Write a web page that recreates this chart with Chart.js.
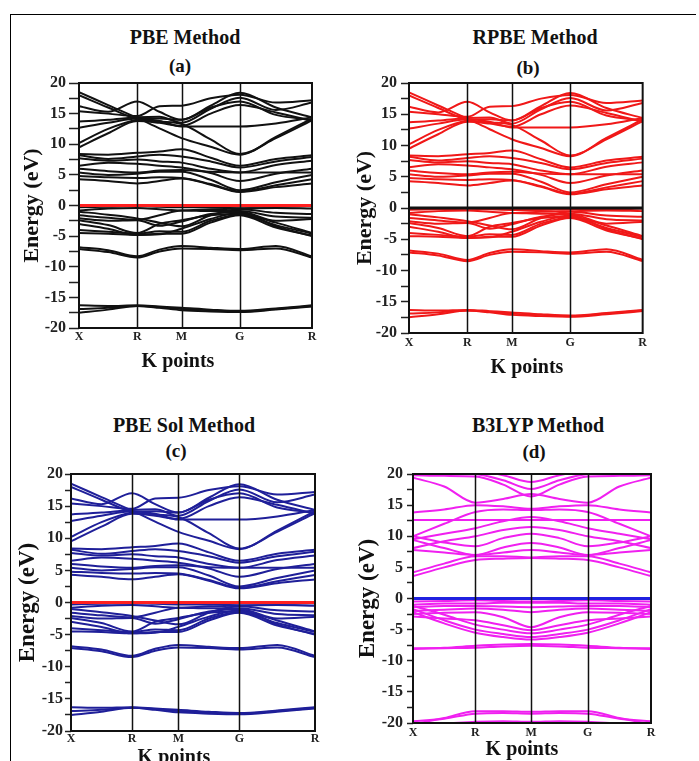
<!DOCTYPE html>
<html>
<head>
<meta charset="utf-8">
<title>Band structures</title>
<script src="https://cdn.jsdelivr.net/npm/chart.js@4.4.1/dist/chart.umd.min.js"></script>
<style>
	html, body { margin: 0; padding: 0; }
	body { width: 699px; height: 761px; overflow: hidden; background: #fff; position: relative; font-family: 'Liberation Serif', 'Times New Roman', serif; }
	.frame-top { position: absolute; left: 10px; top: 14px; width: 686px; height: 1px; background: #000; }
	.frame-left { position: absolute; left: 10px; top: 14px; width: 1px; height: 760px; background: #000; }
	.panel-title { position: absolute; font-weight: bold; white-space: nowrap; transform: translate(-50%, -50%); line-height: 1; color: #111; }
	canvas { position: absolute; }
</style>
</head>
<body>
<div class="frame-top"></div>
<div class="frame-left"></div>

<div class="panel-title" style="left:185px; top:37px; font-size:20px;">PBE Method</div>
<div class="panel-title" style="left:180px; top:65px; font-size:19px;">(a)</div>
<div class="panel-title" style="left:535px; top:37px; font-size:20px;">RPBE Method</div>
<div class="panel-title" style="left:528px; top:67px; font-size:19px;">(b)</div>
<div class="panel-title" style="left:184px; top:425px; font-size:20px;">PBE Sol Method</div>
<div class="panel-title" style="left:176px; top:450px; font-size:19px;">(c)</div>
<div class="panel-title" style="left:538px; top:425px; font-size:20px;">B3LYP Method</div>
<div class="panel-title" style="left:534px; top:451px; font-size:19px;">(d)</div>

<canvas id="chartPBE" style="left:10px; top:68px;" width="310" height="320"></canvas>
<canvas id="chartRPBE" style="left:340px; top:68px;" width="310" height="320"></canvas>
<canvas id="chartPBEsol" style="left:0px; top:459px;" width="325" height="320"></canvas>
<canvas id="chartB3LYP" style="left:340px; top:459px;" width="320" height="320"></canvas>

<script>
// k-path: X - R - M - G - R
const kLabels = ['X', 'R', 'M', 'G', 'R'];
const kTicksGGA = [0, 0.25, 0.44, 0.69, 1];
const kSamplesGGA = [0, 0.125, 0.25, 0.345, 0.44, 0.565, 0.69, 0.845, 1];
const kTicksB3LYP = [0, 0.262, 0.496, 0.734, 1];
const kSamplesB3LYP = [0, 0.131, 0.262, 0.379, 0.496, 0.615, 0.734, 0.867, 1];

// energy axis (eV)
const energyTicks = [-20, -17.5, -15, -12.5, -10, -7.5, -5, -2.5, 0, 2.5, 5, 7.5, 10, 12.5, 15, 17.5, 20];
const energyLabels = [-20, -15, -10, -5, 0, 5, 10, 15, 20];

// Fermi level at 0 eV (drawn from X to R)
const fermiK = [0, 1];
const fermiLevel = [0, 0];

// PBE bands, energies at kSamplesGGA (the RPBE and PBEsol panels read the same)
const pbeUpper = [
	[18.5, 16.4, 14.3, 12.6, 11.0, 9.6, 8.3, 11.2, 14.2],
	[18.0, 16.0, 14.1, 13.7, 13.3, 10.8, 8.4, 11.0, 13.9],
	[16.2, 15.3, 17.0, 15.3, 14.0, 16.3, 18.4, 16.0, 14.4],
	[15.4, 15.0, 14.6, 16.2, 16.3, 17.5, 18.1, 16.8, 17.2],
	[13.7, 14.0, 14.4, 14.5, 13.5, 15.8, 17.6, 15.6, 16.8],
	[12.7, 13.5, 14.2, 13.8, 12.9, 12.9, 12.9, 13.4, 14.4],
	[10.2, 12.5, 14.0, 14.2, 14.0, 16.0, 17.0, 14.8, 14.0],
	[9.5, 11.8, 13.8, 13.5, 13.0, 15.0, 16.4, 15.2, 13.8]
];
const pbeMiddle = [
	[8.4, 8.3, 8.6, 8.8, 9.2, 7.8, 6.5, 7.6, 8.2],
	[8.2, 7.6, 8.0, 8.3, 8.0, 7.2, 6.2, 7.2, 7.9],
	[7.7, 7.3, 7.5, 7.2, 7.0, 6.0, 5.4, 6.6, 7.3],
	[6.5, 7.0, 6.8, 6.5, 6.2, 5.3, 4.0, 5.2, 6.0],
	[6.0, 5.6, 5.4, 5.7, 5.8, 5.5, 5.4, 5.4, 5.4],
	[5.4, 5.0, 5.2, 5.5, 5.5, 4.2, 2.5, 3.8, 5.0],
	[4.8, 4.6, 4.5, 4.6, 4.5, 3.5, 2.3, 3.3, 4.3],
	[4.3, 4.0, 3.6, 4.0, 4.4, 3.4, 2.2, 3.0, 3.6]
];
const pbeValence = [
	[-0.3, -0.2, -0.1, -0.2, -0.3, -0.3, -0.2, -0.2, -0.1],
	[-0.8, -0.5, -0.4, -0.6, -0.8, -0.6, -0.5, -0.4, -0.5],
	[-1.0, -1.5, -2.1, -2.8, -3.4, -1.6, -0.6, -1.2, -1.4],
	[-1.6, -2.0, -2.3, -1.6, -0.8, -0.9, -0.9, -1.8, -2.0],
	[-2.1, -2.5, -2.4, -3.3, -2.6, -1.4, -1.0, -2.5, -2.2],
	[-2.4, -3.2, -4.5, -3.0, -2.4, -1.6, -1.4, -2.8, -4.5],
	[-4.0, -4.3, -4.6, -4.2, -4.3, -2.5, -1.5, -3.2, -4.6],
	[-4.5, -4.6, -4.8, -4.6, -4.6, -2.8, -1.6, -3.6, -4.9],
	[-3.0, -3.8, -4.8, -4.7, -3.8, -2.2, -1.2, -3.4, -5.0],
	[-6.8, -7.3, -8.3, -7.2, -6.6, -6.9, -7.1, -6.6, -8.3],
	[-7.1, -7.6, -8.5, -7.5, -7.0, -7.1, -7.3, -7.0, -8.5]
];
const pbeDeep = [
	[-16.3, -16.4, -16.3, -16.5, -16.7, -17.0, -17.2, -16.8, -16.3],
	[-16.9, -16.7, -16.4, -16.6, -16.9, -17.1, -17.3, -16.9, -16.4],
	[-17.5, -17.0, -16.4, -16.7, -17.1, -17.3, -17.4, -17.0, -16.5]
];

// B3LYP bands, energies at kSamplesB3LYP
const b3lypUpper = [
	[19.4, 18.0, 15.4, 16.0, 16.8, 16.0, 15.4, 18.0, 19.4],
	[19.8, 19.7, 19.6, 18.3, 16.4, 18.3, 19.6, 19.7, 19.8],
	[20.4, 20.2, 20.0, 19.0, 17.6, 19.0, 20.0, 20.2, 20.4],
	[20.6, 20.5, 20.5, 19.8, 18.7, 19.8, 20.5, 20.5, 20.6],
	[13.8, 14.3, 15.0, 14.8, 14.4, 14.8, 15.0, 14.3, 13.8],
	[12.6, 12.6, 12.6, 12.6, 12.6, 12.6, 12.6, 12.6, 12.6]
];
const b3lypMiddle = [
	[10.0, 12.0, 13.9, 14.3, 14.2, 14.3, 13.9, 12.0, 10.0],
	[9.5, 10.4, 11.3, 12.4, 13.1, 12.4, 11.3, 10.4, 9.5],
	[8.1, 9.2, 10.0, 11.0, 11.5, 11.0, 10.0, 9.2, 8.1],
	[10.0, 9.0, 8.4, 9.7, 10.4, 9.7, 8.4, 9.0, 10.0],
	[9.4, 8.1, 7.0, 8.2, 8.9, 8.2, 7.0, 8.1, 9.4],
	[7.8, 7.4, 7.0, 7.4, 7.8, 7.4, 7.0, 7.4, 7.8],
	[4.2, 5.6, 6.8, 6.8, 6.6, 6.8, 6.8, 5.6, 4.2],
	[3.6, 5.0, 6.2, 6.4, 6.5, 6.4, 6.2, 5.0, 3.6]
];
const b3lypValence = [
	[-0.5, -0.4, -0.3, -0.4, -0.5, -0.4, -0.3, -0.4, -0.5],
	[-1.0, -0.8, -0.8, -0.7, -0.7, -0.7, -0.8, -0.8, -1.0],
	[-1.4, -1.2, -1.2, -1.3, -1.4, -1.3, -1.2, -1.2, -1.4],
	[-2.0, -1.8, -1.6, -1.8, -2.2, -1.8, -1.6, -1.8, -2.0],
	[-2.5, -2.3, -2.2, -3.0, -4.6, -3.0, -2.2, -2.3, -2.5],
	[-2.9, -3.2, -3.5, -4.3, -5.1, -4.3, -3.5, -3.2, -2.9],
	[-1.2, -2.6, -4.2, -5.0, -5.6, -5.0, -4.2, -2.6, -1.2],
	[-1.7, -3.5, -5.0, -5.7, -6.2, -5.7, -5.0, -3.5, -1.7],
	[-2.2, -4.0, -5.5, -6.2, -6.6, -6.2, -5.5, -4.0, -2.2],
	[-8.0, -7.9, -7.6, -7.4, -7.3, -7.4, -7.6, -7.9, -8.0],
	[-8.1, -8.0, -7.9, -7.7, -7.6, -7.7, -7.9, -8.0, -8.1]
];
const b3lypDeep = [
	[-20.2, -19.2, -18.1, -18.1, -18.2, -18.1, -18.1, -19.2, -20.2],
	[-19.7, -19.3, -18.5, -18.4, -18.5, -18.4, -18.5, -19.3, -19.7],
	[-20.3, -20.1, -19.8, -19.7, -19.8, -19.7, -19.8, -20.1, -20.3]
];

const serif = "'Liberation Serif', 'Times New Roman', serif";

// chart frame, vertical lines at the high-symmetry points and the "K points" title
const frameBox = {
	id: 'frameBox',
	afterDatasetsDraw(chart, args, opts) {
		const { ctx, chartArea: a, scales } = chart;
		ctx.save();
		ctx.strokeStyle = '#111';
		ctx.lineWidth = 1.5;
		for (const k of opts.kTicks.slice(1, -1)) {
			const x = Math.round(scales.x.getPixelForValue(k)) + 0.5;
			ctx.beginPath();
			ctx.moveTo(x, a.top);
			ctx.lineTo(x, a.bottom);
			ctx.stroke();
		}
		ctx.lineWidth = 2;
		ctx.strokeRect(a.left, a.top, a.right - a.left, a.bottom - a.top);

		// x axis title sits a little off the plot centre in the figure
		ctx.fillStyle = '#111';
		ctx.font = 'bold 20px ' + serif;
		ctx.textAlign = 'center';
		ctx.textBaseline = 'middle';
		ctx.fillText('K points', opts.titleX, opts.titleY);
		ctx.restore();
	}
};

function bandDatasets(groups, kSamples, color) {
	const sets = [];
	for (const group of groups) {
		for (const band of group) {
			sets.push({
				data: kSamples.map((k, i) => ({ x: k, y: band[i] })),
				borderColor: color,
				borderWidth: 2,
				pointRadius: 0,
				fill: false,
				cubicInterpolationMode: 'monotone'
			});
		}
	}
	return sets;
}

function makePanel(id, p) {
	const datasets = bandDatasets(p.groups, p.kSamples, p.color);
	datasets.push({
		data: fermiK.map((k, i) => ({ x: k, y: fermiLevel[i] })),
		borderColor: p.fermiColor,
		borderWidth: 2.8,
		pointRadius: 0,
		order: -1
	});

	return new Chart(document.getElementById(id), {
		type: 'line',
		data: { datasets },
		options: {
			responsive: false,
			animation: false,
			events: [],
			layout: { padding: { top: 15, right: p.padRight, left: 0, bottom: 0 } },
			plugins: {
				legend: { display: false },
				tooltip: { enabled: false },
				frameBox: { kTicks: p.kTicks, titleX: p.xTitleX, titleY: p.xTitleY }
			},
			scales: {
				x: {
					type: 'linear',
					min: 0,
					max: 1,
					afterBuildTicks: s => { s.ticks = p.kTicks.map(v => ({ value: v })); },
					afterFit: s => { s.height = p.xHeight; },
					ticks: {
						autoSkip: false,
						maxRotation: 0,
						padding: p.xLabelPad,
						color: '#222',
						font: { family: serif, size: 12, weight: 'bold' },
						callback: (v, i) => kLabels[i]
					},
					grid: { display: true, drawOnChartArea: false, drawTicks: false },
					border: { display: false }
				},
				y: {
					type: 'linear',
					min: -20,
					max: 20,
					afterBuildTicks: s => { s.ticks = energyTicks.map(v => ({ value: v })); },
					afterFit: s => {
						s.width = p.yWidth;
						s.paddingTop = 0;
						s.paddingBottom = 0;
					},
					ticks: {
						autoSkip: false,
						padding: p.yLabelPad,
						color: '#222',
						font: { family: serif, size: 16, weight: 'bold' },
						callback: v => energyLabels.includes(v) ? String(v) : ''
					},
					grid: {
						display: true,
						drawOnChartArea: false,
						drawTicks: true,
						tickLength: p.tickLength,
						tickColor: '#222',
						tickWidth: 1.5
					},
					border: { display: false },
					title: {
						display: true,
						text: 'Energy (eV)',
						color: '#111',
						font: { family: serif, size: p.yTitleSize, weight: 'bold' },
						padding: { top: p.yTitlePad, bottom: 0 }
					}
				}
			}
		},
		plugins: [frameBox]
	});
}

document.addEventListener('DOMContentLoaded', () => {
	const gga = [pbeUpper, pbeMiddle, pbeValence, pbeDeep];

	makePanel('chartPBE', {
		groups: gga, kSamples: kSamplesGGA, kTicks: kTicksGGA,
		color: '#111111', fermiColor: '#ff2020',
		padRight: 8, xHeight: 60, yWidth: 69,
		xLabelPad: 2, yLabelPad: 3, tickLength: 10,
		yTitleSize: 22, yTitlePad: 9,
		xTitleX: 168, xTitleY: 294
	});
	makePanel('chartRPBE', {
		groups: gga, kSamples: kSamplesGGA, kTicks: kTicksGGA,
		color: '#f01818', fermiColor: '#111111',
		padRight: 7, xHeight: 55, yWidth: 69,
		xLabelPad: 3, yLabelPad: 4, tickLength: 8,
		yTitleSize: 22, yTitlePad: 12,
		xTitleX: 187, xTitleY: 300
	});
	makePanel('chartPBEsol', {
		groups: gga, kSamples: kSamplesGGA, kTicks: kTicksGGA,
		color: '#1f1f99', fermiColor: '#ff2020',
		padRight: 10, xHeight: 48, yWidth: 71,
		xLabelPad: 1, yLabelPad: 2, tickLength: 6,
		yTitleSize: 23, yTitlePad: 14,
		xTitleX: 174, xTitleY: 299
	});
	makePanel('chartB3LYP', {
		groups: [b3lypUpper, b3lypMiddle, b3lypValence, b3lypDeep],
		kSamples: kSamplesB3LYP, kTicks: kTicksB3LYP,
		color: '#f020f0', fermiColor: '#2020e0',
		padRight: 9, xHeight: 56, yWidth: 73,
		xLabelPad: 3, yLabelPad: 4, tickLength: 6,
		yTitleSize: 23, yTitlePad: 14,
		xTitleX: 182, xTitleY: 291
	});
});
</script>
</body>
</html>
